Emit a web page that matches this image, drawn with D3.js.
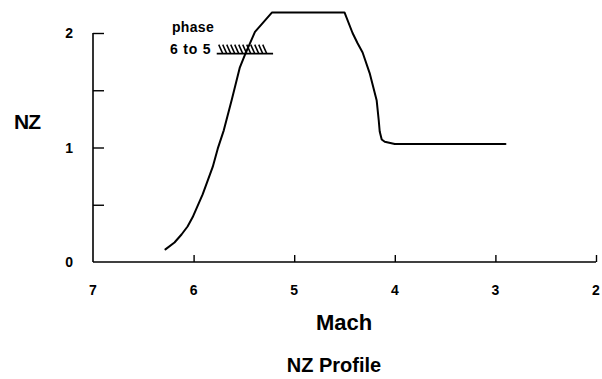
<!DOCTYPE html>
<html>
<head>
<meta charset="utf-8">
<script src="https://cdn.jsdelivr.net/npm/d3@7"></script>
<style>
  html, body { margin: 0; padding: 0; background: #fff; }
  svg { display: block; }
  text { font-family: "Liberation Sans", Arial, Helvetica, sans-serif; font-weight: bold; fill: #000; }
</style>
</head>
<body>
<svg id="chart" width="602" height="379"></svg>
<script>
// Load-factor (NZ) profile against Mach number during descent
const machValues = [6.28, 6.19, 6.12, 6.06, 6.01, 5.96, 5.91, 5.86, 5.81, 5.76, 5.70, 5.62, 5.54, 5.49, 5.44, 5.39, 5.22,
                    4.50, 4.42, 4.37, 4.32, 4.25, 4.18, 4.16, 4.15, 4.13, 4.10, 4.00, 2.90];
const nzValues   = [0.11, 0.17, 0.24, 0.31, 0.39, 0.49, 0.59, 0.71, 0.83, 0.99, 1.15, 1.42, 1.70, 1.81, 1.91, 2.01, 2.18,
                    2.18, 2.00, 1.91, 1.83, 1.65, 1.41, 1.24, 1.14, 1.07, 1.05, 1.03, 1.03];

const xTicks = [7, 6, 5, 4, 3, 2];
const xTickLabels = ["7", "6", "5", "4", "3", "2"];
const yTicks = [0, 0.5, 1, 1.5, 2];
const yTickLabels = ["0", "", "1", "", "2"];

// Phase 6 to 5 transition marker
const phaseLabel = ["phase", "6 to 5"];
const phaseNZ = 1.82;
const phaseMach = [5.77, 5.21];

const svg = d3.select("#chart");

const x = d3.scaleLinear().domain([7, 2]).range([93, 596]);
const y = d3.scaleLinear().domain([0, 2]).range([262, 33]);

// Axes: ticks point inward
const xAxis = d3.axisBottom(x).tickValues(xTicks.slice(1)).tickSize(-7).tickFormat("");
const yAxis = d3.axisLeft(y).tickValues(yTicks.slice(1)).tickSize(-11).tickFormat("");

const gx = svg.append("g").attr("transform", `translate(0,${y(0)})`).call(xAxis);
const gy = svg.append("g").attr("transform", `translate(${x(7)},0)`).call(yAxis);
[gx, gy].forEach(g => {
  g.select(".domain").attr("stroke", "#000").attr("stroke-width", 1.6);
  g.selectAll(".tick line").attr("stroke", "#000").attr("stroke-width", 1.4);
});
// plain axis lines without end caps
gx.select(".domain").attr("d", `M${x(7)},0H${x(2)}`);
gy.select(".domain").attr("d", `M0,${y(2)}V${y(0)}`);

// Tick labels
svg.append("g").selectAll("text").data(xTicks).join("text")
  .attr("x", d => x(d)).attr("y", 295)
  .attr("text-anchor", "middle").attr("font-size", 14)
  .text((d, i) => xTickLabels[i]);

svg.append("g").selectAll("text").data(yTicks).join("text")
  .attr("x", 73).attr("y", d => y(d)).attr("dy", "0.36em")
  .attr("text-anchor", "end").attr("font-size", 14)
  .text((d, i) => yTickLabels[i]);

// Axis titles and chart title
svg.append("text").attr("x", 27).attr("y", 129).attr("text-anchor", "middle")
  .attr("font-size", 21).attr("letter-spacing", -1).text("NZ");
svg.append("text").attr("x", 344).attr("y", 330).attr("text-anchor", "middle")
  .attr("font-size", 22).text("Mach");
svg.append("text").attr("x", 334).attr("y", 372).attr("text-anchor", "middle")
  .attr("font-size", 20).text("NZ Profile");

// Profile curve
const pts = machValues.map((m, i) => [m, nzValues[i]]);
svg.append("path")
  .datum(pts)
  .attr("fill", "none").attr("stroke", "#000").attr("stroke-width", 2)
  .attr("stroke-linejoin", "round").attr("stroke-linecap", "round")
  .attr("d", d3.line().x(d => x(d[0])).y(d => y(d[1])));

// Phase marker: hatched boundary line with label
const hy = y(phaseNZ);
const hx0 = x(phaseMach[0]), hx1 = x(phaseMach[1]);
const hatch = svg.append("g");
hatch.append("line").attr("x1", hx0).attr("x2", hx1).attr("y1", hy).attr("y2", hy)
  .attr("stroke", "#000").attr("stroke-width", 1.6);
const hatchXs = d3.range(hx0 + 2, hx1 - 8, 4);
hatch.selectAll("line.h").data(hatchXs).join("line").attr("class", "h")
  .attr("x1", d => d).attr("y1", hy - 9)
  .attr("x2", d => d + 4).attr("y2", hy)
  .attr("stroke", "#000").attr("stroke-width", 1.5);

svg.append("text").attr("x", 172).attr("y", 32).attr("font-size", 14).attr("letter-spacing", 0.3).text(phaseLabel[0]);
svg.append("text").attr("x", 170).attr("y", 54).attr("font-size", 14).attr("letter-spacing", 0.8).text(phaseLabel[1]);
</script>
</body>
</html>
